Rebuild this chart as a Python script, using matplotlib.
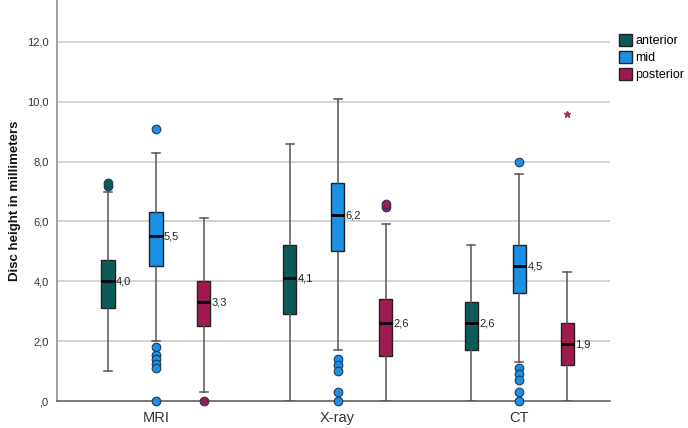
import matplotlib
matplotlib.use("Agg")
import matplotlib.pyplot as plt
from matplotlib.patches import Patch

plt.rcParams['font.family'] = ['Liberation Sans', 'DejaVu Sans']

groups = ["MRI", "X-ray", "CT"]
series = ["anterior", "mid", "posterior"]
colors = ["#0b5c59", "#1a90e6", "#9e1a50"]

# stats per series, per group (MRI, X-ray, CT)
medians = {"anterior": [4.0, 4.1, 2.6], "mid": [5.5, 6.2, 4.5], "posterior": [3.3, 2.6, 1.9]}
q1 = {"anterior": [3.1, 2.9, 1.7], "mid": [4.5, 5.0, 3.6], "posterior": [2.5, 1.5, 1.2]}
q3 = {"anterior": [4.7, 5.2, 3.3], "mid": [6.3, 7.3, 5.2], "posterior": [4.0, 3.4, 2.6]}
whislo = {"anterior": [1.0, 0.0, 0.0], "mid": [2.0, 1.7, 1.3], "posterior": [0.3, 0.0, 0.0]}
whishi = {"anterior": [7.0, 8.6, 5.2], "mid": [8.3, 10.1, 7.6], "posterior": [6.1, 5.9, 4.3]}
outliers = {
    "anterior": [[7.2, 7.3], [], []],
    "mid": [[9.1, 1.8, 1.55, 1.4, 1.25, 1.1, 0.0], [1.4, 1.2, 1.0, 0.3, 0.0], [8.0, 1.1, 0.9, 0.7, 0.3, 0.0]],
    "posterior": [[0.0], [6.5, 6.6], []],
}
extremes = {"anterior": [[], [], []], "mid": [[], [], []], "posterior": [[], [], [9.6]]}
median_labels = {"anterior": ["4,0", "4,1", "2,6"], "mid": ["5,5", "6,2", "4,5"], "posterior": ["3,3", "2,6", "1,9"]}
yticks = [0, 2, 4, 6, 8, 10, 12]
ytick_labels = [",0", "2,0", "4,0", "6,0", "8,0", "10,0", "12,0"]

fig = plt.figure(figsize=(6.88, 4.28), dpi=100)
ax = fig.add_axes([0.0828, 0.063, 0.804, 0.937])

offset = 0.264
bw = 0.072
for si, s in enumerate(series):
    stats = []
    pos = []
    for gi in range(len(groups)):
        stats.append(dict(med=medians[s][gi], q1=q1[s][gi], q3=q3[s][gi],
                          whislo=whislo[s][gi], whishi=whishi[s][gi], fliers=outliers[s][gi]))
        pos.append(gi + (si - 1) * offset)
    ax.bxp(stats, positions=pos, widths=bw, capwidths=0.045, patch_artist=True,
           boxprops=dict(facecolor=colors[si], edgecolor="#222222", linewidth=1.0),
           medianprops=dict(color="black", linewidth=2.0),
           whiskerprops=dict(color="#555555", linewidth=1.1),
           capprops=dict(color="#555555", linewidth=1.1),
           flierprops=dict(marker="o", markerfacecolor=colors[si], markeredgecolor="#1a3a5a",
                           markersize=6.2, markeredgewidth=0.8, clip_on=False),
           zorder=3)
    for gi in range(len(groups)):
        x = gi + (si - 1) * offset
        for e in extremes[s][gi]:
            ax.plot([x], [e], marker="*", color=colors[si], markersize=5, alpha=0.85,
                    linestyle="none", zorder=4)
        ax.text(x + bw / 2 + 0.008, medians[s][gi], median_labels[s][gi], fontsize=8,
                va="center", ha="left", color="#222222", zorder=5)

ax.set_xlim(-0.545, 2.5)
ax.set_ylim(0, 13.4)
ax.set_xticks(range(len(groups)))
ax.set_xticklabels(groups, fontsize=10.5, color="#333333")
ax.set_yticks(yticks)
ax.set_yticklabels(ytick_labels, fontsize=8, color="#333333")
ax.tick_params(axis="both", length=0, pad=6)
ax.tick_params(axis="x", pad=7)
for y in yticks[1:]:
    ax.axhline(y, color="#d0d0d0", linewidth=1.3, zorder=0)
ax.spines["top"].set_visible(False)
ax.spines["right"].set_visible(False)
ax.spines["left"].set_color("#888888")
ax.spines["bottom"].set_color("#555555")
ax.spines["left"].set_linewidth(1.1)
ax.spines["bottom"].set_linewidth(1.1)
ax.set_ylabel("Disc height in millimeters", fontsize=9.5, fontweight="bold", color="#111111", labelpad=4)

handles = [Patch(facecolor=c, edgecolor="#222222", linewidth=1.0) for c in colors]
fig.legend(handles, series, loc="upper left", bbox_to_anchor=(0.9, 0.92), frameon=False,
           fontsize=9, handlelength=1.0, handleheight=1.1, handletextpad=0.3,
           labelspacing=0.3, borderpad=0, borderaxespad=0)

fig.savefig("out.png", dpi=100)
